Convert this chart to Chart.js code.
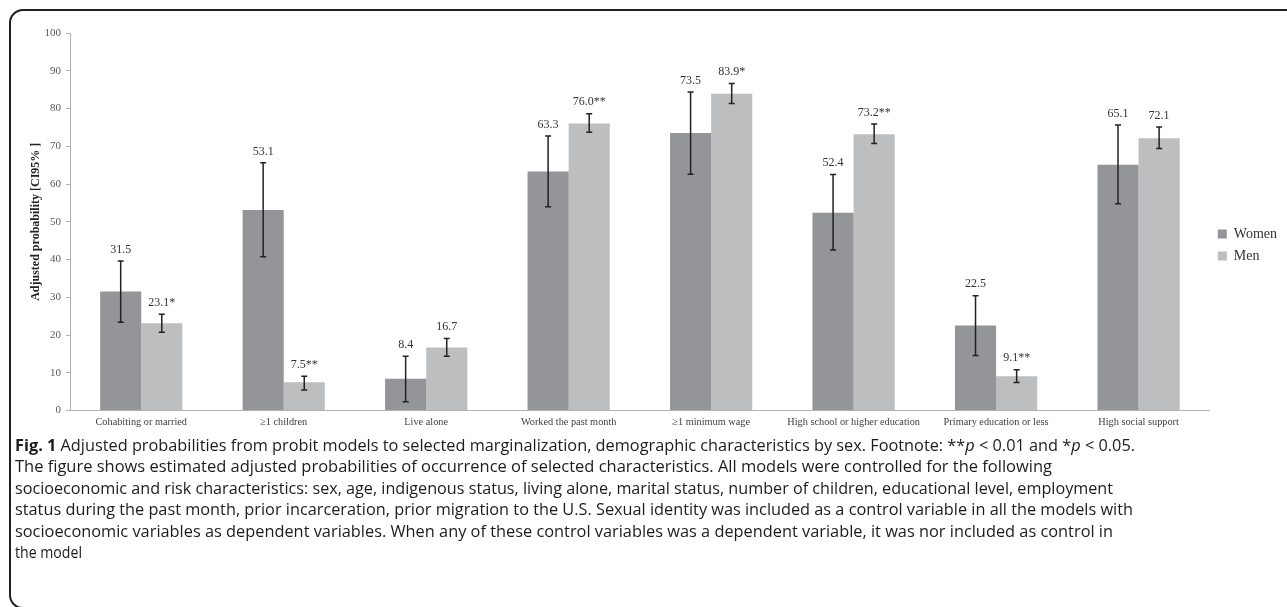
<!DOCTYPE html>
<html lang="en">
<head>
<meta charset="UTF-8">
<title>Adjusted probabilities by sex</title>
<script src="https://cdn.jsdelivr.net/npm/chart.js@4.4.4/dist/chart.umd.min.js"></script>
<style>
  html, body { margin: 0; padding: 0; background: #fff; }
  body { width: 1287px; height: 607px; position: relative; overflow: hidden; }
  #frame {
    position: absolute; left: 9px; top: 9px; width: 1300px; height: 600px;
    box-sizing: border-box; border: 2px solid #231f20; border-radius: 14px;
  }
  #chart { position: absolute; left: 0; top: 0; }
  #caption {
    position: absolute; left: 15px; top: 435px;
    font-family: "Open Sans", sans-serif; font-size: 15.5px; line-height: 21.4px;
    color: #1e1b1c;
  }
  #caption div { white-space: nowrap; transform-origin: 0 0; width: max-content; }
  #caption b { font-weight: 700; }
</style>
</head>
<body>
<div id="frame"></div>
<canvas id="chart" width="1287" height="607"></canvas>
<div id="caption">
  <div data-w="1120"><b>Fig. 1</b> Adjusted probabilities from probit models to selected marginalization, demographic characteristics by sex. Footnote: **<i>p</i> &lt; 0.01 and *<i>p</i> &lt; 0.05.</div>
  <div data-w="1037">The figure shows estimated adjusted probabilities of occurrence of selected characteristics. All models were controlled for the following</div>
  <div data-w="1098">socioeconomic and risk characteristics: sex, age, indigenous status, living alone, marital status, number of children, educational level, employment</div>
  <div data-w="1118">status during the past month, prior incarceration, prior migration to the U.S. Sexual identity was included as a control variable in all the models with</div>
  <div data-w="1098">socioeconomic variables as dependent variables. When any of these control variables was a dependent variable, it was nor included as control in</div>
  <div data-w="67">the model</div>
</div>

<script>
// Datos
const categories = ['Cohabiting or married', '\u22651 children', 'Live alone', 'Worked the past month',
  '\u22651 minimum wage', 'High school or higher education', 'Primary education or less', 'High social support'];
const women = [31.5, 53.1, 8.4, 63.3, 73.5, 52.4, 22.5, 65.1];
const men = [23.1, 7.5, 16.7, 76.0, 83.9, 73.2, 9.1, 72.1];
const womenLow = [23.4, 40.7, 2.3, 54.0, 62.6, 42.5, 14.6, 54.8];
const womenHigh = [39.6, 65.6, 14.4, 72.7, 84.4, 62.5, 30.4, 75.6];
const menLow = [20.7, 5.4, 14.4, 73.7, 81.3, 70.7, 7.4, 69.4];
const menHigh = [25.5, 9.1, 19.1, 78.6, 86.6, 75.9, 10.8, 75.1];
const womenLabels = ['31.5', '53.1', '8.4', '63.3', '73.5', '52.4', '22.5', '65.1'];
const menLabels = ['23.1*', '7.5**', '16.7', '76.0**', '83.9*', '73.2**', '9.1**', '72.1'];
const yTicks = [0, 10, 20, 30, 40, 50, 60, 70, 80, 90, 100];

const serif = '"Liberation Serif", "Times New Roman", serif';

// Barras de error + etiquetas de valor
const errorBars = {
  id: 'errorBars',
  afterDatasetsDraw(chart) {
    const y = chart.scales.y;
    const ctx = chart.ctx;
    const lows = [womenLow, menLow];
    const highs = [womenHigh, menHigh];
    const labels = [womenLabels, menLabels];
    ctx.save();
    chart.data.datasets.forEach((ds, i) => {
      chart.getDatasetMeta(i).data.forEach((bar, j) => {
        const yHi = y.getPixelForValue(highs[i][j]);
        const yLo = y.getPixelForValue(lows[i][j]);
        ctx.strokeStyle = '#222';
        ctx.lineWidth = 1.5;
        ctx.beginPath();
        ctx.moveTo(bar.x, yHi); ctx.lineTo(bar.x, yLo);
        ctx.moveTo(bar.x - 3, yHi); ctx.lineTo(bar.x + 3, yHi);
        ctx.moveTo(bar.x - 3, yLo); ctx.lineTo(bar.x + 3, yLo);
        ctx.stroke();
        ctx.fillStyle = '#333';
        ctx.font = '12px ' + serif;
        ctx.textAlign = 'center';
        ctx.textBaseline = 'middle';
        ctx.fillText(labels[i][j], bar.x, yHi - 11.5);
      });
    });
    ctx.restore();
  }
};

new Chart(document.getElementById('chart'), {
  type: 'bar',
  data: {
    labels: categories,
    datasets: [
      { label: 'Women', data: women, backgroundColor: '#939598', borderWidth: 0 },
      { label: 'Men', data: men, backgroundColor: '#bcbec0', borderWidth: 0 }
    ]
  },
  options: {
    responsive: false,
    animation: false,
    layout: { padding: { top: 33, left: 24, right: 0, bottom: 150 } },
    datasets: { bar: { barPercentage: 1, categoryPercentage: 0.577 } },
    plugins: {
      tooltip: { enabled: false },
      legend: {
        position: 'right',
        align: 'center',
        labels: {
          boxWidth: 9, boxHeight: 9, padding: 8, color: '#333',
          font: { family: serif, size: 14, lineHeight: 1 }
        }
      }
    },
    scales: {
      x: {
        grid: { display: false, drawTicks: false },
        border: { display: true, color: '#b3b3b3', width: 1 },
        ticks: { color: '#404040', padding: 5.6, maxRotation: 0, autoSkip: false, font: { family: serif, size: 10.3 } },
        afterFit(scale) { scale.height = 46.5; }
      },
      y: {
        min: 0, max: 100,
        afterBuildTicks(scale) { scale.ticks = yTicks.map(v => ({ value: v })); },
        grid: { display: true, drawOnChartArea: false, drawTicks: true, tickLength: 4, color: '#b3b3b3' },
        border: { display: true, color: '#b3b3b3', width: 1 },
        ticks: { color: '#595959', padding: 5, font: { family: serif, size: 11 } },
        title: {
          display: true, text: 'Adjusted probability [CI95% ]', color: '#222',
          padding: { top: 5, bottom: 4 },
          font: { family: serif, size: 12, weight: 'bold' }
        },
        afterFit(scale) { scale.width = 46; }
      }
    }
  },
  plugins: [errorBars]
});

// Ajustar el ancho de cada linea del pie de figura
document.querySelectorAll('#caption div').forEach(line => {
  const w = line.getBoundingClientRect().width;
  line.style.transform = 'scaleX(' + (Number(line.dataset.w) / w) + ')';
});
</script>
</body>
</html>
